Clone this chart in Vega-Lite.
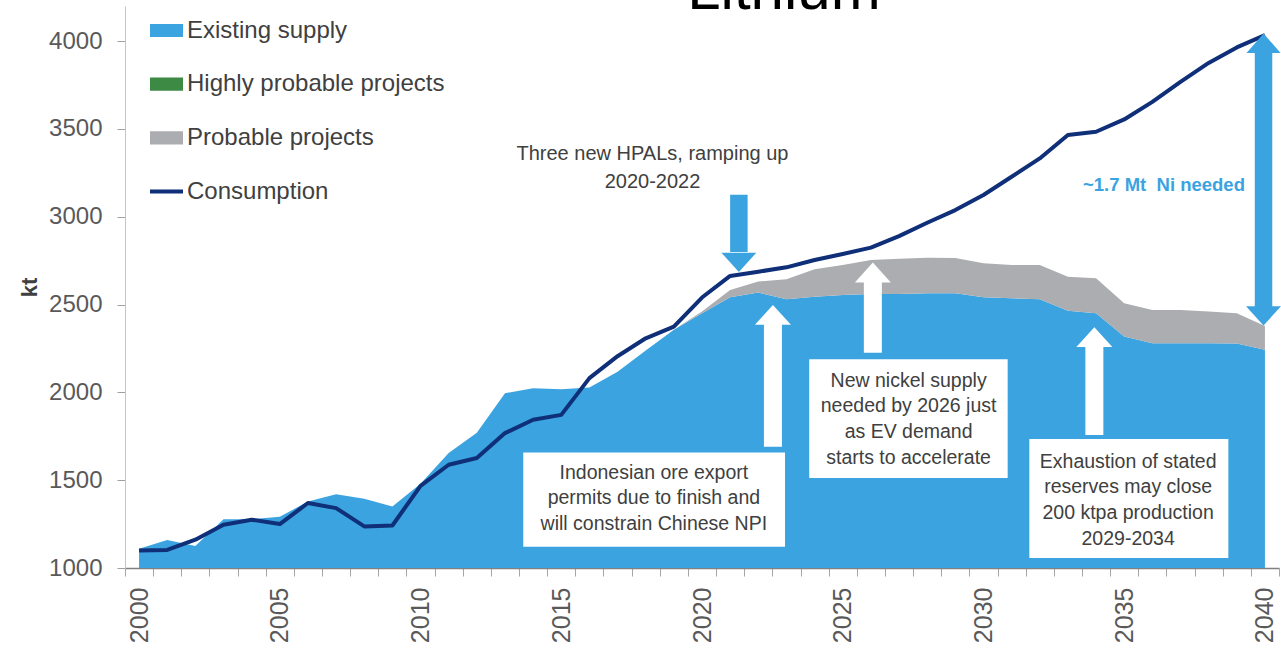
{
  "$schema": "https://vega.github.io/schema/vega-lite/v6.json",
  "width": 1154,
  "height": 562,
  "autosize": {"type": "none"},
  "padding": {"left": 125, "top": 6, "right": 2, "bottom": 81},
  "background": "white",
  "config": {
    "view": {"stroke": null},
    "font": "Liberation Sans",
    "axis": {"labelFont": "Liberation Sans", "titleFont": "Liberation Sans", "grid": false},
    "legend": {
      "orient": "none",
      "legendX": 25,
      "legendY": 8,
      "padding": 0,
      "labelFont": "Liberation Sans",
      "labelFontSize": 24,
      "labelColor": "#404040",
      "labelOffset": 4,
      "labelLimit": 0,
      "rowPadding": 24.7,
      "symbolSize": 1089,
      "symbolType": "M-1,-0.4H1V0.4H-1Z"
    }
  },
  "resolve": {"axis": {"x": "independent"}},
  "datasets": {
    "supply": [
      {"year": 2000, "series": "Existing supply", "kt": 1110}, {"year": 2001, "series": "Existing supply", "kt": 1160}, {"year": 2002, "series": "Existing supply", "kt": 1125}, {"year": 2003, "series": "Existing supply", "kt": 1278}, {"year": 2004, "series": "Existing supply", "kt": 1278}, {"year": 2005, "series": "Existing supply", "kt": 1292}, {"year": 2006, "series": "Existing supply", "kt": 1378}, {"year": 2007, "series": "Existing supply", "kt": 1420}, {"year": 2008, "series": "Existing supply", "kt": 1394}, {"year": 2009, "series": "Existing supply", "kt": 1350},
      {"year": 2010, "series": "Existing supply", "kt": 1480}, {"year": 2011, "series": "Existing supply", "kt": 1655}, {"year": 2012, "series": "Existing supply", "kt": 1770}, {"year": 2013, "series": "Existing supply", "kt": 1995}, {"year": 2014, "series": "Existing supply", "kt": 2024}, {"year": 2015, "series": "Existing supply", "kt": 2018}, {"year": 2016, "series": "Existing supply", "kt": 2028}, {"year": 2017, "series": "Existing supply", "kt": 2118}, {"year": 2018, "series": "Existing supply", "kt": 2238}, {"year": 2019, "series": "Existing supply", "kt": 2356},
      {"year": 2020, "series": "Existing supply", "kt": 2450}, {"year": 2021, "series": "Existing supply", "kt": 2542}, {"year": 2022, "series": "Existing supply", "kt": 2568}, {"year": 2023, "series": "Existing supply", "kt": 2530}, {"year": 2024, "series": "Existing supply", "kt": 2545}, {"year": 2025, "series": "Existing supply", "kt": 2555}, {"year": 2026, "series": "Existing supply", "kt": 2560}, {"year": 2027, "series": "Existing supply", "kt": 2560}, {"year": 2028, "series": "Existing supply", "kt": 2564}, {"year": 2029, "series": "Existing supply", "kt": 2564},
      {"year": 2030, "series": "Existing supply", "kt": 2542}, {"year": 2031, "series": "Existing supply", "kt": 2536}, {"year": 2032, "series": "Existing supply", "kt": 2530}, {"year": 2033, "series": "Existing supply", "kt": 2465}, {"year": 2034, "series": "Existing supply", "kt": 2451}, {"year": 2035, "series": "Existing supply", "kt": 2318}, {"year": 2036, "series": "Existing supply", "kt": 2280}, {"year": 2037, "series": "Existing supply", "kt": 2280}, {"year": 2038, "series": "Existing supply", "kt": 2280}, {"year": 2039, "series": "Existing supply", "kt": 2278}, {"year": 2040, "series": "Existing supply", "kt": 2242},
      {"year": 2000, "series": "Highly probable projects", "kt": 0}, {"year": 2040, "series": "Highly probable projects", "kt": 0},
      {"year": 2000, "series": "Probable projects", "kt": 0}, {"year": 2001, "series": "Probable projects", "kt": 0}, {"year": 2002, "series": "Probable projects", "kt": 0}, {"year": 2003, "series": "Probable projects", "kt": 0}, {"year": 2004, "series": "Probable projects", "kt": 0}, {"year": 2005, "series": "Probable projects", "kt": 0}, {"year": 2006, "series": "Probable projects", "kt": 0}, {"year": 2007, "series": "Probable projects", "kt": 0}, {"year": 2008, "series": "Probable projects", "kt": 0}, {"year": 2009, "series": "Probable projects", "kt": 0},
      {"year": 2010, "series": "Probable projects", "kt": 0}, {"year": 2011, "series": "Probable projects", "kt": 0}, {"year": 2012, "series": "Probable projects", "kt": 0}, {"year": 2013, "series": "Probable projects", "kt": 0}, {"year": 2014, "series": "Probable projects", "kt": 0}, {"year": 2015, "series": "Probable projects", "kt": 0}, {"year": 2016, "series": "Probable projects", "kt": 0}, {"year": 2017, "series": "Probable projects", "kt": 0}, {"year": 2018, "series": "Probable projects", "kt": 0}, {"year": 2019, "series": "Probable projects", "kt": 0},
      {"year": 2020, "series": "Probable projects", "kt": 10}, {"year": 2021, "series": "Probable projects", "kt": 41}, {"year": 2022, "series": "Probable projects", "kt": 63}, {"year": 2023, "series": "Probable projects", "kt": 114}, {"year": 2024, "series": "Probable projects", "kt": 156}, {"year": 2025, "series": "Probable projects", "kt": 170}, {"year": 2026, "series": "Probable projects", "kt": 194}, {"year": 2027, "series": "Probable projects", "kt": 201}, {"year": 2028, "series": "Probable projects", "kt": 203}, {"year": 2029, "series": "Probable projects", "kt": 201},
      {"year": 2030, "series": "Probable projects", "kt": 193}, {"year": 2031, "series": "Probable projects", "kt": 189}, {"year": 2032, "series": "Probable projects", "kt": 195}, {"year": 2033, "series": "Probable projects", "kt": 194}, {"year": 2034, "series": "Probable projects", "kt": 199}, {"year": 2035, "series": "Probable projects", "kt": 189}, {"year": 2036, "series": "Probable projects", "kt": 189}, {"year": 2037, "series": "Probable projects", "kt": 189}, {"year": 2038, "series": "Probable projects", "kt": 180}, {"year": 2039, "series": "Probable projects", "kt": 173}, {"year": 2040, "series": "Probable projects", "kt": 136}
    ],
    "consumption": [
      {"year": 2000, "series": "Consumption", "kt": 1100}, {"year": 2001, "series": "Consumption", "kt": 1103}, {"year": 2002, "series": "Consumption", "kt": 1161}, {"year": 2003, "series": "Consumption", "kt": 1246}, {"year": 2004, "series": "Consumption", "kt": 1275}, {"year": 2005, "series": "Consumption", "kt": 1250}, {"year": 2006, "series": "Consumption", "kt": 1370}, {"year": 2007, "series": "Consumption", "kt": 1341}, {"year": 2008, "series": "Consumption", "kt": 1237}, {"year": 2009, "series": "Consumption", "kt": 1242},
      {"year": 2010, "series": "Consumption", "kt": 1468}, {"year": 2011, "series": "Consumption", "kt": 1588}, {"year": 2012, "series": "Consumption", "kt": 1626}, {"year": 2013, "series": "Consumption", "kt": 1768}, {"year": 2014, "series": "Consumption", "kt": 1844}, {"year": 2015, "series": "Consumption", "kt": 1872}, {"year": 2016, "series": "Consumption", "kt": 2081}, {"year": 2017, "series": "Consumption", "kt": 2206}, {"year": 2018, "series": "Consumption", "kt": 2308}, {"year": 2019, "series": "Consumption", "kt": 2374},
      {"year": 2020, "series": "Consumption", "kt": 2540}, {"year": 2021, "series": "Consumption", "kt": 2663}, {"year": 2022, "series": "Consumption", "kt": 2687}, {"year": 2023, "series": "Consumption", "kt": 2712}, {"year": 2024, "series": "Consumption", "kt": 2754}, {"year": 2025, "series": "Consumption", "kt": 2788}, {"year": 2026, "series": "Consumption", "kt": 2824}, {"year": 2027, "series": "Consumption", "kt": 2890}, {"year": 2028, "series": "Consumption", "kt": 2966}, {"year": 2029, "series": "Consumption", "kt": 3038},
      {"year": 2030, "series": "Consumption", "kt": 3124}, {"year": 2031, "series": "Consumption", "kt": 3228}, {"year": 2032, "series": "Consumption", "kt": 3332}, {"year": 2033, "series": "Consumption", "kt": 3465}, {"year": 2034, "series": "Consumption", "kt": 3484}, {"year": 2035, "series": "Consumption", "kt": 3554}, {"year": 2036, "series": "Consumption", "kt": 3654}, {"year": 2037, "series": "Consumption", "kt": 3768}, {"year": 2038, "series": "Consumption", "kt": 3876}, {"year": 2039, "series": "Consumption", "kt": 3964}, {"year": 2040, "series": "Consumption", "kt": 4034}
    ],
    "boxes": [
      {"year": 2013.65, "year2": 2022.95, "kt": 1658, "kt2": 1121},
      {"year": 2023.81, "year2": 2030.86, "kt": 2189, "kt2": 1512},
      {"year": 2031.63, "year2": 2038.70, "kt": 1734, "kt2": 1057}
    ],
    "whiteShafts": [
      {"year": 2022.52, "kt": 2392, "kt2": 1690},
      {"year": 2026.07, "kt": 2628, "kt2": 2225},
      {"year": 2033.94, "kt": 2268, "kt2": 1758}
    ],
    "blueShafts": [
      {"year": 2021.31, "kt": 3125, "kt2": 2800},
      {"year": 2039.95, "kt": 3936, "kt2": 2478}
    ],
    "whiteHeadsUp": [
      {"year": 2022.52, "kt": 2498},
      {"year": 2026.07, "kt": 2739},
      {"year": 2033.94, "kt": 2371}
    ],
    "blueHeadsUp": [
      {"year": 2039.95, "kt": 4044}
    ],
    "blueHeadsDown": [
      {"year": 2021.31, "kt": 2686},
      {"year": 2039.95, "kt": 2381}
    ],
    "hpal": [
      {"year": 2018.24, "kt": 3357, "lines": ["Three new HPALs, ramping up", "2020-2022"]}
    ],
    "notes": [
      {"year": 2018.29, "kt": 1542, "lines": ["Indonesian ore export", "permits due to finish and", "will constrain Chinese NPI"]},
      {"year": 2027.34, "kt": 2067, "lines": ["New nickel supply", "needed by 2026 just", "as EV demand", "starts to accelerate"]},
      {"year": 2035.14, "kt": 1606, "lines": ["Exhaustion of stated", "reserves may close", "200 ktpa production", "2029-2034"]}
    ],
    "gap": [
      {"year": 2039.29, "kt": 3181, "label": "~1.7 Mt\u00a0 Ni needed"}
    ],
    "heading": [
      {"year": 2022.91, "kt": 4185, "label": "Lithium"}
    ]
  },
  "layer": [
    {
      "data": {"name": "supply"},
      "mark": {"type": "area", "clip": true, "interpolate": "linear"},
      "encoding": {
        "x": {
          "field": "year", "type": "quantitative",
          "scale": {"domain": [1999.5, 2040.5], "nice": false, "zero": false},
          "axis": {
            "orient": "bottom",
            "title": null,
            "values": [1999.5, 2000.5, 2001.5, 2002.5, 2003.5, 2004.5, 2005.5, 2006.5, 2007.5, 2008.5, 2009.5, 2010.5, 2011.5, 2012.5, 2013.5, 2014.5, 2015.5, 2016.5, 2017.5, 2018.5, 2019.5, 2020.5, 2021.5, 2022.5, 2023.5, 2024.5, 2025.5, 2026.5, 2027.5, 2028.5, 2029.5, 2030.5, 2031.5, 2032.5, 2033.5, 2034.5, 2035.5, 2036.5, 2037.5, 2038.5, 2039.5, 2040.5],
            "labels": false,
            "tickSize": 8,
            "tickColor": "#a6a6a6",
            "domainColor": "#808080",
            "domainWidth": 1.5,
            "grid": false
          }
        },
        "y": {
          "field": "kt", "type": "quantitative", "stack": "zero",
          "scale": {"domain": [1000, 4200], "nice": false, "zero": false},
          "axis": {
            "title": "kt",
            "values": [1000, 1500, 2000, 2500, 3000, 3500, 4000],
            "format": "d",
            "labelFontSize": 24,
            "labelColor": "#595959",
            "labelPadding": 15,
            "tickSize": 8,
            "tickColor": "#a0a0a0",
            "domainColor": "#c4c4c4",
            "titleFontSize": 22,
            "titleFontWeight": "bold",
            "titleColor": "#404040",
            "titlePadding": 7,
            "grid": false
          }
        },
        "color": {
          "field": "series", "type": "nominal",
          "scale": {
            "domain": ["Existing supply", "Highly probable projects", "Probable projects", "Consumption"],
            "range": ["#3ba3e0", "#3c8a44", "#acadb0", "#0f2f78"]
          },
          "legend": {
            "title": null,
            "encode": {
              "symbols": {
                "update": {
                  "shape": {"signal": "datum.value === 'Consumption' ? 'M-1,-0.12H1V0.12H-1Z' : 'M-1,-0.4H1V0.4H-1Z'"},
                  "fill": {"signal": "scale('color', datum.value)"},
                  "stroke": {"value": "transparent"},
                  "strokeWidth": {"value": 0},
                  "size": {"value": 1089},
                  "opacity": {"value": 1},
                  "fillOpacity": {"value": 1}
                }
              }
            }
          }
        },
        "order": {"field": "series", "sort": "ascending"}
      }
    },
    {
      "data": {"name": "consumption"},
      "mark": {"type": "line", "strokeWidth": 4, "strokeJoin": "round"},
      "encoding": {
        "x": {
          "field": "year", "type": "quantitative",
          "axis": {
            "orient": "bottom",
            "title": null,
            "values": [2000, 2005, 2010, 2015, 2020, 2025, 2030, 2035, 2040],
            "format": "d",
            "domain": false,
            "ticks": false,
            "labelAngle": -90,
            "labelAlign": "right",
            "labelBaseline": "middle",
            "labelPadding": 19,
            "labelFontSize": 25,
            "labelColor": "#595959",
            "labelOverlap": false,
            "labelFlush": false,
            "labelBound": false,
            "grid": false
          }
        },
        "y": {"field": "kt", "type": "quantitative", "title": "kt"},
        "color": {"field": "series", "type": "nominal"}
      }
    },
    {
      "data": {"name": "boxes"},
      "mark": {"type": "rect", "fill": "white"},
      "encoding": {
        "x": {"field": "year", "type": "quantitative", "axis": null},
        "x2": {"field": "year2"},
        "y": {"field": "kt", "type": "quantitative", "title": "kt"},
        "y2": {"field": "kt2"}
      }
    },
    {
      "data": {"name": "whiteShafts"},
      "mark": {"type": "rule", "color": "white", "strokeWidth": 18, "strokeCap": "butt"},
      "encoding": {
        "x": {"field": "year", "type": "quantitative", "axis": null},
        "y": {"field": "kt", "type": "quantitative", "title": "kt"},
        "y2": {"field": "kt2"}
      }
    },
    {
      "data": {"name": "blueShafts"},
      "mark": {"type": "rule", "color": "#3ba3e0", "strokeWidth": 17.5, "strokeCap": "butt"},
      "encoding": {
        "x": {"field": "year", "type": "quantitative", "axis": null},
        "y": {"field": "kt", "type": "quantitative", "title": "kt"},
        "y2": {"field": "kt2"}
      }
    },
    {
      "data": {"name": "whiteHeadsUp"},
      "mark": {"type": "point", "shape": "M0,0L1,1.1L-1,1.1Z", "size": 1296, "filled": true, "fill": "white", "opacity": 1, "strokeWidth": 0},
      "encoding": {
        "x": {"field": "year", "type": "quantitative", "axis": null},
        "y": {"field": "kt", "type": "quantitative", "title": "kt"}
      }
    },
    {
      "data": {"name": "blueHeadsUp"},
      "mark": {"type": "point", "shape": "M0,0L1,1.15L-1,1.15Z", "size": 1156, "filled": true, "fill": "#3ba3e0", "opacity": 1, "strokeWidth": 0},
      "encoding": {
        "x": {"field": "year", "type": "quantitative", "axis": null},
        "y": {"field": "kt", "type": "quantitative", "title": "kt"}
      }
    },
    {
      "data": {"name": "blueHeadsDown"},
      "mark": {"type": "point", "shape": "M0,0L1,-1.1L-1,-1.1Z", "size": 1225, "filled": true, "fill": "#3ba3e0", "opacity": 1, "strokeWidth": 0},
      "encoding": {
        "x": {"field": "year", "type": "quantitative", "axis": null},
        "y": {"field": "kt", "type": "quantitative", "title": "kt"}
      }
    },
    {
      "data": {"name": "hpal"},
      "mark": {"type": "text", "font": "Liberation Sans", "fontSize": 20, "lineHeight": 28, "align": "center", "baseline": "middle", "color": "#404040"},
      "encoding": {
        "x": {"field": "year", "type": "quantitative", "axis": null},
        "y": {"field": "kt", "type": "quantitative", "title": "kt"},
        "text": {"field": "lines"}
      }
    },
    {
      "data": {"name": "notes"},
      "mark": {"type": "text", "font": "Liberation Sans", "fontSize": 19.5, "lineHeight": 25.7, "align": "center", "baseline": "middle", "color": "#404040"},
      "encoding": {
        "x": {"field": "year", "type": "quantitative", "axis": null},
        "y": {"field": "kt", "type": "quantitative", "title": "kt"},
        "text": {"field": "lines"}
      }
    },
    {
      "data": {"name": "gap"},
      "mark": {"type": "text", "font": "Liberation Sans", "fontSize": 18.5, "fontWeight": "bold", "align": "right", "baseline": "middle", "color": "#3ba3e0"},
      "encoding": {
        "x": {"field": "year", "type": "quantitative", "axis": null},
        "y": {"field": "kt", "type": "quantitative", "title": "kt"},
        "text": {"field": "label"}
      }
    },
    {
      "data": {"name": "heading"},
      "mark": {"type": "text", "font": "Liberation Sans", "fontSize": 60, "align": "center", "baseline": "alphabetic", "color": "black"},
      "encoding": {
        "x": {"field": "year", "type": "quantitative", "axis": null},
        "y": {"field": "kt", "type": "quantitative", "title": "kt"},
        "text": {"field": "label"}
      }
    }
  ]
}
